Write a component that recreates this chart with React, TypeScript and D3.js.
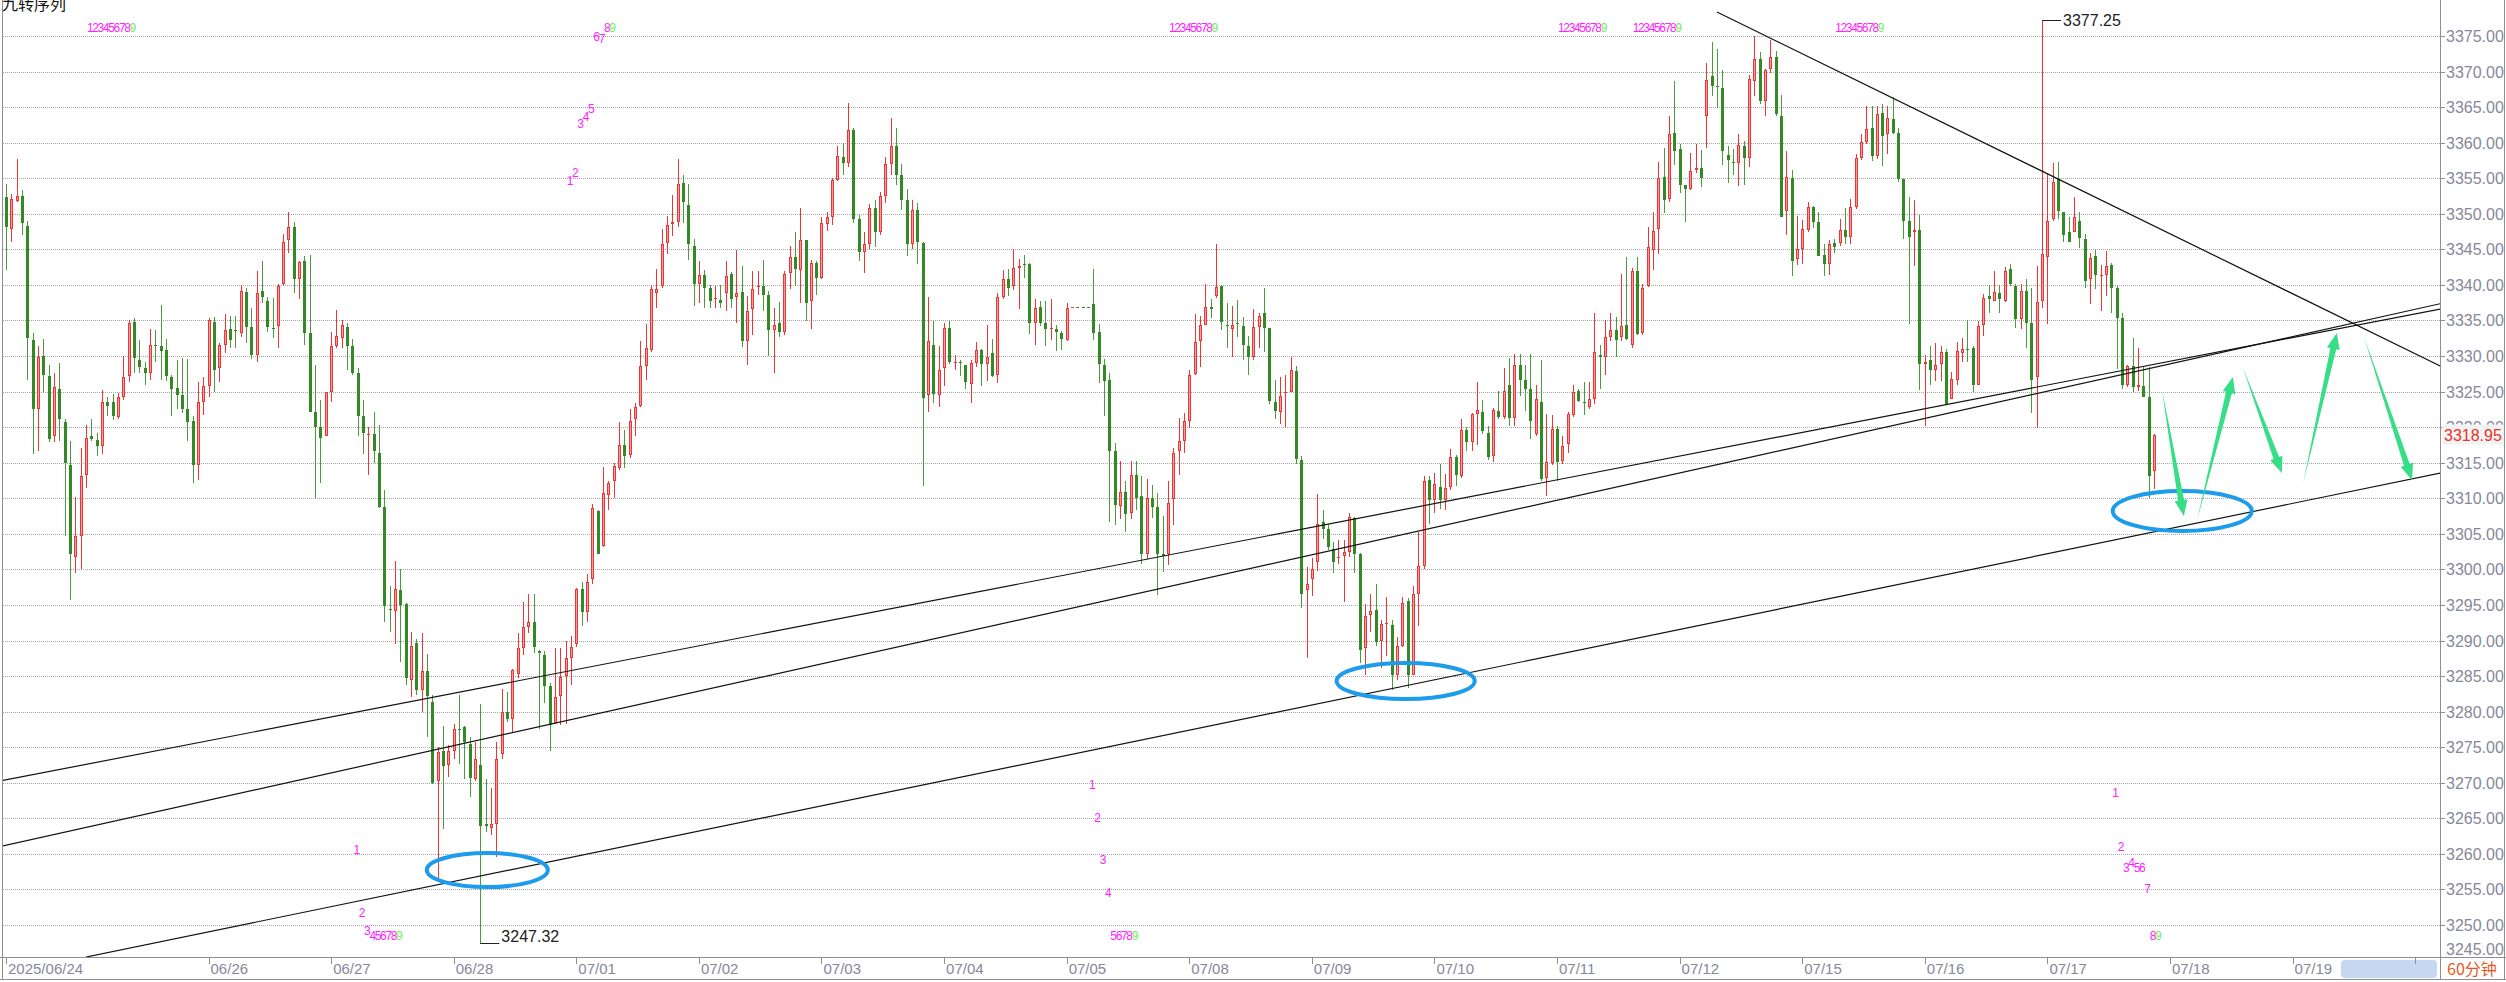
import React from 'react';
import * as d3 from 'd3';

// [open, high, low, close] per 60-minute bar
type Bar = [number, number, number, number];

// 06/24 - 06/27
const barsA: Bar[] = [
  [3352.3, 3354.2, 3342.1, 3348.1], [3347.8, 3352.8, 3346.0, 3352.1], [3351.8, 3357.7, 3351.6, 3352.5], [3352.5, 3353.4, 3347.0, 3348.7],
  [3348.3, 3349.0, 3326.7, 3332.6], [3332.3, 3333.3, 3316.2, 3322.6], [3322.6, 3331.4, 3316.6, 3329.9], [3330.0, 3332.4, 3324.9, 3327.4],
  [3327.2, 3328.7, 3317.9, 3318.3], [3318.8, 3327.6, 3317.9, 3325.6], [3325.4, 3329.0, 3318.0, 3321.2], [3320.7, 3321.1, 3304.7, 3315.0],
  [3314.7, 3318.0, 3295.7, 3302.2], [3301.7, 3310.2, 3299.5, 3304.7], [3304.7, 3317.1, 3300.0, 3313.2], [3313.3, 3320.3, 3311.4, 3318.5],
  [3318.7, 3321.2, 3318.0, 3318.3], [3318.2, 3319.2, 3315.9, 3317.3], [3317.3, 3325.2, 3316.2, 3323.6], [3323.5, 3324.3, 3321.6, 3323.0],
  [3323.6, 3324.7, 3321.0, 3321.6], [3321.4, 3324.8, 3321.2, 3324.2], [3324.3, 3330.0, 3323.8, 3327.0], [3327.2, 3335.0, 3326.4, 3334.7],
  [3334.8, 3335.4, 3327.6, 3329.7], [3329.5, 3332.3, 3327.6, 3328.5], [3328.3, 3329.2, 3325.9, 3327.6], [3327.6, 3333.8, 3326.7, 3331.6],
  [3331.6, 3333.6, 3329.2, 3331.5], [3331.4, 3337.2, 3326.7, 3330.7], [3330.9, 3332.4, 3326.5, 3327.2], [3327.1, 3327.4, 3321.6, 3325.4],
  [3325.5, 3329.5, 3322.6, 3324.5], [3324.5, 3329.7, 3322.0, 3322.6], [3322.6, 3329.6, 3318.1, 3320.7], [3320.9, 3321.6, 3312.1, 3314.7],
  [3314.7, 3326.4, 3312.6, 3323.5], [3323.5, 3327.1, 3321.7, 3325.8], [3325.8, 3335.4, 3324.3, 3335.0], [3334.8, 3335.5, 3325.0, 3328.1],
  [3328.3, 3331.9, 3326.4, 3331.6], [3331.6, 3335.9, 3330.4, 3333.6], [3333.8, 3335.7, 3331.2, 3332.3], [3333.6, 3335.7, 3331.2, 3333.5],
  [3333.2, 3340.0, 3332.7, 3339.2], [3339.0, 3339.5, 3331.9, 3334.1], [3334.1, 3336.7, 3329.6, 3330.1], [3330.2, 3341.9, 3329.2, 3338.8],
  [3339.2, 3343.3, 3337.4, 3338.3], [3337.8, 3338.3, 3333.4, 3334.1], [3334.0, 3338.1, 3332.6, 3334.0], [3334.2, 3340.2, 3331.2, 3339.9],
  [3340.2, 3347.1, 3339.9, 3346.1], [3346.3, 3350.2, 3344.5, 3348.1], [3348.1, 3348.8, 3338.8, 3340.8], [3340.9, 3343.4, 3338.0, 3343.2],
  [3343.3, 3344.1, 3331.6, 3333.2], [3333.2, 3344.2, 3322.1, 3322.1], [3322.1, 3328.7, 3310.0, 3320.0], [3320.0, 3323.8, 3312.1, 3318.5],
  [3318.8, 3325.0, 3318.8, 3324.9], [3325.0, 3333.4, 3323.6, 3331.4], [3331.4, 3336.5, 3331.2, 3332.8], [3332.6, 3335.0, 3331.2, 3334.3],
  [3334.1, 3334.7, 3328.1, 3331.4], [3331.4, 3332.4, 3327.4, 3327.6], [3327.6, 3328.3, 3318.8, 3321.6], [3321.6, 3323.8, 3316.2, 3319.2],
  [3318.9, 3320.0, 3313.3, 3319.0], [3319.0, 3322.1, 3315.0, 3316.6], [3316.3, 3320.3, 3308.6, 3308.8], [3308.8, 3311.1, 3292.6, 3294.9],
  [3294.4, 3297.6, 3291.2, 3294.3], [3294.2, 3301.2, 3289.5, 3297.2], [3297.1, 3300.0, 3287.0, 3295.0], [3295.1, 3295.3, 3283.8, 3284.8],
  [3284.5, 3291.2, 3282.0, 3289.3], [3289.6, 3290.2, 3282.4, 3283.0], [3283.0, 3291.0, 3280.0, 3285.7], [3285.7, 3288.1, 3276.4, 3282.2],
  [3281.4, 3282.4, 3269.8, 3270.0], [3270.2, 3275.0, 3256.5, 3274.3],
];

// 06/27 - 07/03
const barsB: Bar[] = [
  [3274.5, 3278.0, 3263.5, 3272.4], [3272.5, 3275.3, 3270.8, 3274.5], [3274.5, 3278.2, 3273.3, 3277.5], [3277.6, 3282.4, 3272.7, 3277.4],
  [3277.9, 3278.0, 3270.5, 3275.7], [3275.5, 3276.5, 3268.0, 3270.7], [3270.5, 3275.8, 3270.2, 3273.3], [3272.5, 3281.1, 3247.32, 3263.9],
  [3264.2, 3270.6, 3263.1, 3263.9], [3263.7, 3269.2, 3262.7, 3264.2], [3264.2, 3275.7, 3259.5, 3273.4], [3274.0, 3283.2, 3273.3, 3280.0],
  [3279.9, 3282.8, 3278.5, 3279.0], [3279.0, 3286.0, 3277.1, 3285.8], [3285.3, 3291.0, 3284.8, 3288.9], [3289.0, 3295.4, 3287.9, 3291.9],
  [3291.9, 3296.6, 3291.0, 3292.6], [3292.6, 3296.6, 3288.3, 3289.1], [3288.5, 3288.7, 3277.6, 3288.2], [3287.9, 3288.5, 3281.2, 3283.6],
  [3283.6, 3284.0, 3274.5, 3278.1], [3278.4, 3288.9, 3278.2, 3282.0], [3282.2, 3288.9, 3278.1, 3284.9], [3285.0, 3289.9, 3278.2, 3287.5],
  [3287.5, 3290.7, 3283.7, 3289.1], [3289.5, 3297.4, 3289.1, 3297.2], [3297.2, 3298.3, 3292.1, 3294.0], [3294.0, 3299.4, 3292.6, 3298.3],
  [3298.6, 3309.2, 3298.0, 3308.6], [3308.2, 3308.4, 3302.1, 3302.1], [3303.3, 3314.4, 3303.1, 3310.8], [3310.4, 3312.4, 3308.4, 3312.2],
  [3312.4, 3314.9, 3310.0, 3314.6], [3314.3, 3320.7, 3314.0, 3317.5], [3317.5, 3319.6, 3314.2, 3315.9], [3316.1, 3322.6, 3315.7, 3320.9],
  [3321.1, 3323.4, 3318.7, 3322.9], [3323.0, 3332.1, 3322.8, 3328.6], [3328.6, 3334.5, 3326.6, 3331.2], [3330.9, 3339.8, 3330.5, 3339.4],
  [3338.8, 3342.2, 3336.8, 3339.4], [3339.8, 3347.9, 3339.6, 3345.7], [3345.9, 3349.7, 3344.3, 3348.4], [3348.6, 3352.6, 3346.9, 3348.8],
  [3348.9, 3357.7, 3348.1, 3354.2], [3354.4, 3355.4, 3348.7, 3351.6], [3351.3, 3354.2, 3343.5, 3345.7], [3345.5, 3346.5, 3337.1, 3340.2],
  [3340.2, 3343.4, 3337.5, 3341.4], [3341.4, 3342.1, 3336.8, 3339.6], [3339.6, 3340.0, 3336.7, 3337.8], [3338.0, 3339.8, 3336.8, 3338.1],
  [3337.9, 3340.0, 3336.7, 3337.4], [3338.8, 3343.4, 3336.4, 3341.3], [3341.6, 3341.8, 3336.8, 3338.0], [3338.3, 3344.9, 3334.7, 3338.8],
  [3339.0, 3342.7, 3331.3, 3332.1], [3332.1, 3338.4, 3328.8, 3336.3], [3336.6, 3342.0, 3332.9, 3339.4], [3339.7, 3342.0, 3338.6, 3339.8],
  [3339.8, 3343.5, 3336.4, 3338.6], [3338.6, 3339.2, 3330.0, 3333.7], [3333.7, 3336.8, 3327.6, 3334.3], [3334.6, 3337.6, 3332.7, 3333.4],
  [3333.4, 3342.0, 3332.9, 3341.6], [3341.7, 3345.5, 3339.4, 3343.9], [3343.9, 3347.5, 3339.8, 3342.2], [3342.1, 3350.8, 3337.4, 3346.3],
  [3346.3, 3346.3, 3334.9, 3337.5], [3337.8, 3343.5, 3333.8, 3343.1], [3343.1, 3343.4, 3338.6, 3341.0], [3341.0, 3349.5, 3340.8, 3348.7],
  [3348.6, 3350.3, 3347.6, 3349.5], [3349.5, 3355.0, 3348.4, 3354.7], [3354.7, 3359.5, 3354.6, 3358.1], [3358.0, 3360.0, 3355.5, 3357.1],
  [3357.1, 3365.6, 3356.6, 3361.8], [3361.8, 3362.1, 3348.7, 3349.2], [3349.2, 3349.9, 3343.4, 3344.6], [3344.6, 3347.5, 3341.7, 3345.7],
  [3345.7, 3351.4, 3345.0, 3350.8],
];

// 07/03 - 07/09
const barsC: Bar[] = [
  [3350.8, 3352.0, 3345.3, 3347.4], [3347.4, 3353.0, 3347.0, 3352.5], [3352.5, 3358.0, 3351.5, 3357.0], [3357.0, 3363.5, 3355.5, 3359.5],
  [3359.5, 3362.0, 3354.0, 3355.5], [3355.5, 3357.0, 3350.5, 3352.0], [3352.0, 3353.5, 3344.0, 3345.8], [3345.8, 3352.0, 3345.0, 3350.5],
  [3350.5, 3351.5, 3343.0, 3346.0], [3345.9, 3346.0, 3311.7, 3324.1], [3324.5, 3338.3, 3322.1, 3332.1], [3331.6, 3334.9, 3323.4, 3324.7],
  [3324.5, 3331.4, 3322.9, 3328.0], [3328.3, 3334.7, 3325.8, 3333.9], [3333.9, 3334.9, 3328.9, 3329.2], [3329.1, 3330.2, 3328.0, 3329.2],
  [3329.2, 3329.5, 3327.2, 3329.0], [3328.7, 3328.8, 3325.3, 3326.3], [3326.1, 3329.4, 3323.4, 3329.0], [3329.0, 3332.0, 3328.5, 3330.8],
  [3330.9, 3331.0, 3325.8, 3328.9], [3328.9, 3334.3, 3326.5, 3329.9], [3330.4, 3332.4, 3327.1, 3327.2], [3327.4, 3338.8, 3326.2, 3338.3],
  [3338.3, 3342.1, 3338.0, 3340.8], [3340.8, 3342.2, 3338.5, 3339.6], [3339.9, 3345.0, 3339.3, 3342.4], [3342.4, 3343.6, 3336.6, 3342.7],
  [3342.9, 3344.2, 3341.0, 3342.8], [3343.0, 3343.1, 3333.1, 3334.6], [3334.6, 3338.0, 3331.5, 3336.7], [3336.9, 3337.8, 3334.2, 3334.7],
  [3334.6, 3337.8, 3331.4, 3333.8], [3333.8, 3338.0, 3332.3, 3333.9], [3333.8, 3334.3, 3330.7, 3333.4], [3333.3, 3333.5, 3330.8, 3332.4],
  [3332.2, 3337.5, 3332.1, 3336.8], [3336.9, 3336.9, 3336.9, 3336.9], [3336.9, 3336.9, 3336.9, 3336.9], [3336.9, 3336.9, 3336.9, 3336.9],
  [3336.9, 3336.9, 3336.9, 3336.9], [3337.3, 3342.3, 3332.3, 3333.3], [3333.4, 3334.5, 3326.2, 3328.9], [3328.7, 3329.6, 3321.6, 3326.5],
  [3326.6, 3327.6, 3306.7, 3316.7], [3316.6, 3317.8, 3306.2, 3309.0], [3308.9, 3315.2, 3307.1, 3310.9], [3310.9, 3312.4, 3305.3, 3307.8],
  [3308.0, 3315.2, 3307.1, 3313.3], [3313.3, 3315.2, 3308.4, 3310.1], [3310.3, 3313.1, 3300.7, 3302.2], [3302.2, 3312.7, 3301.4, 3310.1],
  [3310.1, 3311.9, 3307.3, 3308.8], [3308.8, 3310.8, 3296.4, 3302.2], [3302.1, 3307.5, 3299.7, 3301.9], [3302.2, 3312.5, 3300.6, 3309.4],
  [3309.9, 3317.1, 3306.2, 3316.3], [3316.6, 3321.3, 3313.3, 3318.1], [3318.1, 3322.0, 3316.3, 3320.9], [3320.9, 3328.0, 3319.9, 3327.3],
  [3327.5, 3335.9, 3327.4, 3332.0], [3332.1, 3335.6, 3328.4, 3334.3], [3334.4, 3340.2, 3334.4, 3336.9], [3336.9, 3338.0, 3335.3, 3336.6],
  [3338.4, 3345.8, 3338.2, 3339.7], [3339.8, 3340.0, 3333.7, 3334.8], [3334.4, 3337.4, 3331.2, 3334.3], [3333.8, 3337.0, 3329.8, 3334.4],
  [3334.6, 3337.9, 3332.7, 3334.5], [3334.2, 3335.5, 3329.5, 3331.6], [3331.4, 3332.8, 3327.3, 3329.9], [3329.9, 3336.6, 3329.5, 3334.1],
  [3334.1, 3336.0, 3331.1, 3335.6], [3336.1, 3339.5, 3330.5, 3333.9], [3333.9, 3333.9, 3323.3, 3323.7], [3323.6, 3326.7, 3321.1, 3322.3],
  [3322.1, 3327.0, 3320.5, 3324.4], [3324.9, 3327.3, 3320.0, 3325.0], [3325.0, 3329.9, 3324.9, 3328.0], [3327.9, 3328.6, 3314.8, 3315.5],
];

// 07/09 - 07/12
const barsD: Bar[] = [
  [3315.4, 3315.9, 3294.6, 3296.5], [3297.1, 3300.3, 3287.5, 3298.0], [3298.6, 3301.6, 3296.2, 3300.1], [3301.0, 3310.6, 3299.8, 3306.4],
  [3306.6, 3308.4, 3304.3, 3305.7], [3305.7, 3306.4, 3302.7, 3303.1], [3302.9, 3303.8, 3299.5, 3301.0], [3301.7, 3304.2, 3300.7, 3301.8],
  [3301.9, 3304.1, 3295.4, 3302.5], [3302.5, 3307.9, 3301.8, 3307.4], [3307.3, 3307.4, 3299.5, 3302.2], [3302.1, 3302.3, 3286.9, 3288.7],
  [3288.9, 3295.1, 3285.2, 3293.5], [3293.6, 3296.6, 3291.2, 3294.1], [3294.3, 3298.0, 3289.3, 3289.8], [3289.9, 3292.9, 3286.2, 3292.3],
  [3292.4, 3296.1, 3287.8, 3292.5], [3292.2, 3292.9, 3283.1, 3285.1], [3285.1, 3290.5, 3284.5, 3289.3], [3289.3, 3296.1, 3289.1, 3295.3],
  [3295.6, 3296.0, 3283.3, 3285.1], [3285.1, 3297.7, 3285.1, 3296.5], [3296.5, 3305.2, 3292.1, 3300.5], [3300.5, 3313.1, 3300.1, 3312.4],
  [3312.6, 3313.1, 3306.4, 3309.7], [3309.7, 3313.6, 3308.0, 3312.0], [3311.6, 3314.8, 3308.5, 3309.7], [3309.7, 3313.4, 3308.4, 3311.5],
  [3311.6, 3316.9, 3311.1, 3315.8], [3315.8, 3316.1, 3311.7, 3313.3], [3313.1, 3321.2, 3312.9, 3319.6], [3319.6, 3320.0, 3316.7, 3317.9],
  [3317.9, 3322.0, 3316.6, 3321.8], [3321.8, 3326.4, 3317.5, 3322.4], [3322.1, 3323.8, 3319.0, 3319.4], [3319.2, 3320.2, 3315.4, 3315.8],
  [3316.0, 3322.7, 3315.1, 3322.4], [3322.3, 3325.1, 3321.1, 3321.4], [3321.4, 3328.3, 3321.1, 3325.1], [3325.9, 3329.7, 3320.1, 3321.3],
  [3321.3, 3330.3, 3320.1, 3328.8], [3328.8, 3330.3, 3324.4, 3326.6], [3326.6, 3328.8, 3322.3, 3325.4], [3325.3, 3330.3, 3318.4, 3320.8],
  [3319.1, 3326.0, 3318.7, 3323.9], [3323.5, 3329.4, 3312.4, 3312.7], [3312.9, 3321.8, 3310.3, 3315.1], [3314.9, 3321.7, 3314.7, 3319.7],
  [3319.8, 3320.2, 3312.4, 3315.1], [3315.3, 3318.8, 3314.8, 3317.4], [3317.7, 3322.1, 3316.3, 3321.8], [3321.7, 3326.0, 3321.5, 3325.0],
  [3325.1, 3325.3, 3323.5, 3323.7], [3323.5, 3326.4, 3321.7, 3323.4], [3322.9, 3326.4, 3322.6, 3323.9], [3323.9, 3336.1, 3323.2, 3330.6],
  [3330.1, 3331.6, 3325.3, 3329.9], [3329.9, 3335.0, 3327.4, 3332.7], [3332.7, 3336.1, 3332.1, 3333.7], [3333.7, 3335.5, 3329.9, 3332.2],
  [3332.7, 3341.6, 3332.1, 3334.2], [3334.3, 3343.9, 3332.3, 3332.4], [3331.5, 3342.4, 3331.2, 3341.9], [3341.9, 3343.9, 3332.9, 3333.1],
  [3333.3, 3340.1, 3333.0, 3339.6], [3339.9, 3348.2, 3339.7, 3345.4], [3344.9, 3350.2, 3342.1, 3347.6], [3347.8, 3357.3, 3344.3, 3355.1],
  [3355.2, 3359.2, 3350.1, 3352.0], [3352.1, 3363.7, 3351.7, 3361.2], [3361.3, 3368.7, 3356.8, 3358.8], [3359.1, 3359.8, 3352.9, 3354.1],
  [3354.0, 3354.1, 3348.9, 3353.5], [3353.5, 3358.6, 3353.3, 3356.0], [3356.2, 3359.8, 3355.7, 3356.5], [3356.5, 3359.0, 3353.7, 3355.0],
  [3363.7, 3371.2, 3359.2, 3368.8], [3369.4, 3374.2, 3366.5, 3367.9], [3367.9, 3373.2, 3364.9, 3367.8], [3367.7, 3370.2, 3356.8, 3358.8],
  [3358.3, 3359.6, 3354.4, 3357.6],
];

// 07/12 - 07/17
const barsE: Bar[] = [
  [3357.3, 3359.1, 3355.5, 3357.1], [3357.1, 3361.2, 3353.9, 3359.7], [3359.6, 3360.2, 3354.1, 3357.8], [3357.8, 3369.5, 3356.6, 3368.9],
  [3368.7, 3375.0, 3366.6, 3371.8], [3371.8, 3372.7, 3365.4, 3365.9], [3365.9, 3370.3, 3363.8, 3370.2], [3370.3, 3374.5, 3369.8, 3372.0],
  [3372.0, 3372.9, 3363.7, 3364.1], [3363.8, 3366.7, 3349.5, 3349.6], [3350.4, 3358.8, 3347.0, 3355.2], [3355.1, 3356.1, 3341.2, 3343.4],
  [3343.6, 3349.7, 3342.8, 3345.0], [3345.1, 3349.1, 3343.0, 3347.8], [3347.7, 3351.7, 3347.4, 3351.0], [3351.0, 3351.1, 3348.0, 3348.9],
  [3348.8, 3350.3, 3344.1, 3344.1], [3344.2, 3345.7, 3341.3, 3342.9], [3342.9, 3346.3, 3341.4, 3345.7], [3345.9, 3346.4, 3344.5, 3345.4],
  [3345.9, 3349.2, 3345.5, 3347.7], [3347.7, 3350.8, 3345.7, 3346.7], [3346.7, 3352.1, 3345.7, 3350.9], [3350.9, 3358.4, 3350.7, 3357.8],
  [3357.8, 3361.2, 3357.6, 3360.1], [3360.1, 3365.2, 3359.8, 3361.9], [3362.1, 3365.2, 3357.4, 3358.1], [3358.1, 3365.2, 3357.7, 3364.1],
  [3364.2, 3365.5, 3356.7, 3360.9], [3361.2, 3365.2, 3358.4, 3363.5], [3363.4, 3366.4, 3361.2, 3361.4], [3361.3, 3362.1, 3354.5, 3354.9],
  [3354.9, 3354.9, 3346.5, 3349.0], [3349.0, 3352.3, 3334.5, 3346.7], [3347.4, 3351.9, 3342.7, 3347.7], [3347.7, 3349.9, 3325.2, 3328.9],
  [3328.9, 3330.2, 3320.2, 3329.2], [3329.4, 3331.4, 3325.9, 3328.1], [3328.1, 3331.9, 3326.5, 3328.8], [3328.9, 3331.4, 3326.5, 3330.5],
  [3330.6, 3331.0, 3323.2, 3323.3], [3324.0, 3327.7, 3323.9, 3326.8], [3326.7, 3332.0, 3326.0, 3330.7], [3330.4, 3332.6, 3329.2, 3331.0],
  [3331.0, 3335.0, 3329.2, 3331.0], [3331.1, 3331.4, 3325.0, 3326.0], [3326.0, 3334.9, 3325.9, 3334.2], [3334.3, 3338.7, 3332.8, 3338.2],
  [3338.4, 3340.0, 3336.0, 3338.0], [3337.8, 3342.0, 3337.8, 3339.0], [3338.9, 3340.0, 3336.0, 3338.0], [3337.8, 3342.5, 3337.6, 3342.0],
  [3342.2, 3342.9, 3339.9, 3340.1], [3339.9, 3340.1, 3334.0, 3335.2], [3335.2, 3340.2, 3333.8, 3339.2], [3339.2, 3340.9, 3331.1, 3334.7],
  [3334.7, 3339.5, 3322.0, 3326.7], [3327.0, 3342.6, 3319.9, 3337.6], [3337.7, 3377.25, 3336.8, 3344.3], [3343.9, 3355.6, 3334.5, 3349.0],
  [3349.2, 3357.2, 3349.0, 3354.5], [3354.9, 3357.3, 3349.2, 3350.4], [3350.3, 3350.3, 3346.0, 3347.0], [3347.4, 3349.5, 3346.0, 3346.0],
  [3347.4, 3352.3, 3347.4, 3349.5], [3349.0, 3350.3, 3345.2, 3346.6], [3346.5, 3347.1, 3339.5, 3340.6], [3340.9, 3344.5, 3337.3, 3343.8],
  [3344.1, 3344.9, 3339.4, 3341.4], [3341.3, 3342.8, 3336.4, 3341.4], [3341.4, 3344.8, 3338.4, 3342.7], [3342.8, 3343.1, 3336.1, 3339.6],
  [3339.6, 3339.9, 3328.2, 3335.3], [3335.3, 3336.1, 3325.3, 3326.0], [3325.9, 3328.8, 3325.6, 3328.6], [3328.6, 3332.5, 3324.9, 3325.6],
  [3325.7, 3331.2, 3325.1, 3325.9], [3325.8, 3328.6, 3324.2, 3324.3], [3324.3, 3328.5, 3310.0, 3313.1], [3313.8, 3319.0, 3311.3, 3318.95],
];

const bars: Bar[] = [...barsA, ...barsB, ...barsC, ...barsD, ...barsE];

// bar index where each date label starts
const dateTicks: [number, string][] = [
  [0, '2025/06/24'], [38, '06/26'], [61, '06/27'], [84, '06/28'], [107, '07/01'], [130, '07/02'],
  [153, '07/03'], [176, '07/04'], [199, '07/05'], [222, '07/08'], [245, '07/09'], [268, '07/10'],
  [291, '07/11'], [314, '07/12'], [337, '07/15'], [360, '07/16'], [383, '07/17'], [406, '07/18'],
  [429, '07/19'], [452, ''],
];
const priceTicks = d3.range(3245, 3376, 5);
const lastPrice = 3318.95;
const highMark = { index: 382, price: 3377.25 };
const lowMark = { index: 89, price: 3247.32 };

// TD "九转" counts: runs of 1..9 starting at a bar, with the price level of each digit
const tdTopStarts = [15, 218, 291, 305, 343];
const tdRuns: { start: number; prices: number[] }[] = [
  { start: 105, prices: [3354.1, 3355.2, 3362.1, 3363.1, 3364.2, 3374.3, 3374.0, 3375.6, 3375.6] },
  { start: 65, prices: [3260.0, 3251.1, 3248.6, 3247.9, 3247.9, 3247.9, 3247.9, 3247.9, 3247.9] },
  { start: 203, prices: [3269.1, 3264.5, 3258.6, 3253.9, 3247.9, 3247.9, 3247.9, 3247.9, 3247.9] },
  { start: 395, prices: [3268.0, 3260.4, 3257.5, 3258.2, 3257.5, 3257.5, 3254.5, 3247.9, 3247.9] },
];

// hand-drawn lines: [barIndex, price] endpoints
const trendLines: [number, number, number, number][] = [
  [-1.13, 3270.25, 456.7, 3336.61],
  [-1.13, 3261.03, 456.7, 3337.36],
  [15.0, 3245.5, 456.7, 3313.55],
  [321.0, 3378.37, 456.7, 3328.6],
];
// ellipses: centre bar, centre price, radius in bars, radius in price
const ellipses: [number, number, number, number][] = [
  [90.3, 3257.73, 11.35, 2.39],
  [262.6, 3284.31, 12.95, 2.53],
  [408.3, 3308.21, 13.04, 2.81],
];
// forecast arrows: from [bar, price] to tip [bar, price]
const arrows: [number, number, number, number][] = [
  [404.5, 3325.22, 408.6, 3307.51],
  [411.1, 3306.95, 417.8, 3327.05],
  [419.7, 3328.32, 427.0, 3313.55],
  [431.0, 3312.15, 437.3, 3333.24],
  [442.4, 3332.68, 451.4, 3312.57],
];

const W = 2506;
const H = 982;
const PLOT_R = 2440;
const AXIS_Y = 957;
const RED = '#ee3535';
const PINK = '#f5a0a0';
const GREEN = '#338a24';
const GREEN_WICK = '#4d9a3e';
const MAGENTA = '#ff22ff';
const LIME = '#70ee60';
const FONT = '"Liberation Sans", Arial, sans-serif';

const x = d3.scaleLinear().domain([0, 452]).range([6, 6 + 452 * 5.33]);
const y = d3.scaleLinear().domain([3245, 3375]).range([960.6, 36]);

function arrowPath(x1: number, y1: number, x2: number, y2: number) {
  const dx = x2 - x1, dy = y2 - y1;
  const len = Math.hypot(dx, dy);
  const ux = dx / len, uy = dy / len;
  const nx = -uy, ny = ux;
  const headLen = 16, headW = 13, shaftW = 6;
  const bx = x2 - ux * headLen, by = y2 - uy * headLen;
  const pts = [
    [x1, y1],
    [bx + nx * shaftW / 2, by + ny * shaftW / 2],
    [bx + nx * headW / 2, by + ny * headW / 2],
    [x2, y2],
    [bx - nx * headW / 2, by - ny * headW / 2],
    [bx - nx * shaftW / 2, by - ny * shaftW / 2],
  ];
  return 'M' + pts.map(p => p.join(',')).join('L') + 'Z';
}

function Candles() {
  return (
    <g shapeRendering="crispEdges">
      {bars.map(([o, h, l, c], i) => {
        const cx = Math.round(x(i));
        const prevClose = i > 0 ? bars[i - 1][3] : o;
        const up = c > o || (c === o && c > prevClose);
        const top = Math.round(y(Math.max(o, c)));
        const bot = Math.round(y(Math.min(o, c)));
        const bh = Math.max(1, bot - top);
        const col = up ? RED : GREEN;
        return (
          <g key={i}>
            <line x1={cx + 0.5} x2={cx + 0.5} y1={y(h)} y2={y(l)} stroke={up ? RED : GREEN_WICK} strokeWidth={1} />
            <rect x={cx - 1} y={top} width={3} height={bh} fill={col} />
            {up && bh > 2 && <rect x={cx} y={top + 1} width={1} height={bh - 2} fill={PINK} />}
          </g>
        );
      })}
    </g>
  );
}

function TdDigits() {
  const marks: { i: number; d: number; p: number }[] = [];
  tdTopStarts.forEach(s => d3.range(9).forEach(k => marks.push({ i: s + k, d: k + 1, p: 3375.6 })));
  tdRuns.forEach(r => r.prices.forEach((p, k) => marks.push({ i: r.start + k, d: k + 1, p })));
  return (
    <g fontFamily={FONT} fontSize={12}>
      {marks.map((m, n) => (
        <text key={n} x={x(m.i) + 1} y={y(m.p)} fill={m.d === 9 ? LIME : MAGENTA}>{m.d}</text>
      ))}
    </g>
  );
}

export default function App() {
  const gridTicks = priceTicks.filter(p => y(p) < AXIS_Y - 1);
  return (
    <svg width={W} height={H} viewBox={`0 0 ${W} ${H}`}
      style={{ position: 'absolute', left: 0, top: 0, display: 'block', background: '#fff' }}>
      <defs>
        <clipPath id="plot"><rect x={3} y={0} width={PLOT_R - 3} height={AXIS_Y} /></clipPath>
      </defs>
      <rect x={0} y={0} width={W} height={H} fill="#fff" />

      {/* grid */}
      <g shapeRendering="crispEdges">
        {gridTicks.map(p => (
          <line key={p} x1={3} x2={PLOT_R} y1={Math.round(y(p)) + 0.5} y2={Math.round(y(p)) + 0.5}
            stroke="#a6a6a6" strokeDasharray="1 1" />
        ))}
      </g>

      <text x={2} y={10} fontFamily='"Noto Sans CJK SC", sans-serif' fontSize={16} fill="#111">九转序列</text>

      <g clipPath="url(#plot)">
        <Candles />
        {trendLines.map(([i1, p1, i2, p2], k) => (
          <line key={k} x1={x(i1)} y1={y(p1)} x2={x(i2)} y2={y(p2)} stroke="#111" strokeWidth={1.2} />
        ))}
        {ellipses.map(([i, p, ri, rp], k) => (
          <ellipse key={k} cx={x(i)} cy={y(p)} rx={x(i + ri) - x(i)} ry={y(p - rp) - y(p)}
            fill="none" stroke="#1c9cea" strokeWidth={4} />
        ))}
        {arrows.map(([i1, p1, i2, p2], k) => (
          <path key={k} d={arrowPath(x(i1), y(p1), x(i2), y(p2))} fill="#36de86" />
        ))}
        <TdDigits />
      </g>

      {/* high / low markers */}
      <g fontFamily={FONT} fontSize={16} fill="#222">
        <line x1={x(highMark.index)} x2={x(highMark.index) + 19} y1={Math.round(y(highMark.price)) + 0.5}
          y2={Math.round(y(highMark.price)) + 0.5} stroke="#222" />
        <text x={x(highMark.index) + 21} y={y(highMark.price) + 6}>{highMark.price.toFixed(2)}</text>
        <line x1={x(lowMark.index)} x2={x(lowMark.index) + 19} y1={Math.round(y(lowMark.price)) - 0.5}
          y2={Math.round(y(lowMark.price)) - 0.5} stroke="#222" />
        <text x={x(lowMark.index) + 21} y={y(lowMark.price) - 2}>{lowMark.price.toFixed(2)}</text>
      </g>

      {/* frame */}
      <g shapeRendering="crispEdges" stroke="#8f8f8f">
        <line x1={2.5} x2={2.5} y1={0} y2={980} />
        <line x1={PLOT_R + 0.5} x2={PLOT_R + 0.5} y1={0} y2={980} />
        <line x1={W - 1.5} x2={W - 1.5} y1={0} y2={980} />
        <line x1={0} x2={W} y1={AXIS_Y + 0.5} y2={AXIS_Y + 0.5} />
        <line x1={0} x2={W} y1={979.5} y2={979.5} />
      </g>

      {/* right price axis */}
      <g fontFamily={FONT} fontSize={16} fill="#86889a">
        {priceTicks.map(p => {
          const py = Math.min(y(p), 949);
          return (
            <g key={p}>
              {y(p) < AXIS_Y && <line x1={PLOT_R} x2={PLOT_R + 5} y1={Math.round(py) + 0.5} y2={Math.round(py) + 0.5} stroke="#8f8f8f" shapeRendering="crispEdges" />}
              <text x={PLOT_R + 6} y={py + 6}>{p.toFixed(2)}</text>
            </g>
          );
        })}
        <rect x={PLOT_R + 2} y={y(lastPrice) - 10} width={62} height={20} fill="#f3f3f3" />
        <text x={PLOT_R + 4} y={y(lastPrice) + 6} fill="#e8322a">{lastPrice.toFixed(2)}</text>
      </g>

      {/* bottom date axis */}
      <rect x={2341} y={960} width={96} height={18} rx={4} fill="#c6d8f1" />
      <g fontFamily={FONT} fontSize={15} fill="#86889a">
        {dateTicks.map(([i, label]) => (
          <g key={i}>
            <line x1={Math.round(x(i)) + 0.5} x2={Math.round(x(i)) + 0.5} y1={AXIS_Y} y2={AXIS_Y + 7} stroke="#8f8f8f" shapeRendering="crispEdges" />
            <text x={x(i) + 2} y={974}>{label}</text>
          </g>
        ))}
      </g>
      <text x={PLOT_R + 7} y={975} fontFamily='"Noto Sans CJK SC", sans-serif' fontSize={16} fill="#e4591f">60分钟</text>
    </svg>
  );
}
